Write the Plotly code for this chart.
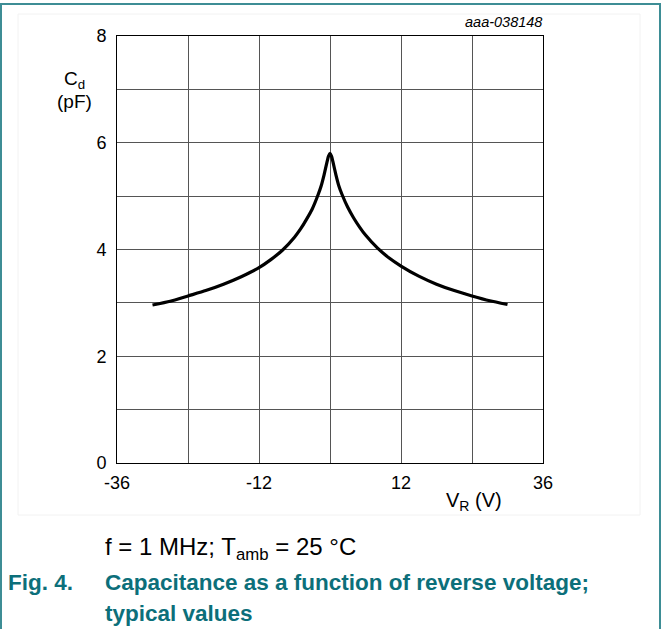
import plotly.graph_objects as go

# ---- data ----
v_r = [-30, -27, -24, -21, -18, -15, -12, -10, -8, -6, -5, -4, -3, -2, -1.5, -1, -0.5, -0.25,
       0, 0.25, 0.5, 1, 1.5, 2, 3, 4, 5, 6, 8, 10, 12, 15, 18, 21, 24, 27, 30]
c_d = [2.96, 3.03, 3.13, 3.23, 3.35, 3.49, 3.66, 3.81, 3.99, 4.23, 4.38, 4.56, 4.76, 5.03, 5.19, 5.40, 5.64, 5.75,
       5.80, 5.75, 5.64, 5.40, 5.19, 5.04, 4.79, 4.59, 4.42, 4.27, 4.03, 3.84, 3.69, 3.50, 3.35, 3.23, 3.13, 3.04, 2.97]

x_ticks = [-36, -24, -12, 0, 12, 24, 36]
x_tick_labels = ["-36", "", "-12", "", "12", "", "36"]
y_ticks = [0, 1, 2, 3, 4, 5, 6, 7, 8]
y_tick_labels = ["0", "", "2", "", "4", "", "6", "", "8"]

W, H = 662, 629
L, R, T, B = 117, 119, 36, 166
PW, PH = W - L - R, H - T - B
FONT = "Arial, Liberation Sans, sans-serif"
TEAL = "#0c6f7a"


def px(x):
    return (x - L) / PW


def py(y):
    return (H - B - y) / PH


fig = go.Figure()
fig.add_trace(go.Scatter(x=v_r, y=c_d, mode="lines",
                         line=dict(color="black", width=3.2, shape="spline", smoothing=0.6),
                         hoverinfo="skip", showlegend=False))

axis_common = dict(showgrid=True, gridcolor="#555555", gridwidth=1, zeroline=False,
                   showline=True, linecolor="black", linewidth=1, mirror=True,
                   ticks="", tickfont=dict(family=FONT, size=18, color="black"))

fig.update_xaxes(range=[-36, 36], tickmode="array", tickvals=x_ticks, ticktext=x_tick_labels,
                 ticklabelstandoff=3, **axis_common)
fig.update_yaxes(range=[0, 8], tickmode="array", tickvals=y_ticks, ticktext=y_tick_labels,
                 ticklabelstandoff=6, **axis_common)

ann = []
ann.append(dict(x=px(544), y=py(22), text="<i>aaa-038148</i>", xanchor="right", yanchor="middle",
                font=dict(family=FONT, size=14.5, color="black")))
ann.append(dict(x=px(74), y=py(80), text="C<sub>d</sub>", xanchor="center", yanchor="middle",
                font=dict(family=FONT, size=19, color="black")))
ann.append(dict(x=px(74), y=py(102), text="(pF)", xanchor="center", yanchor="middle",
                font=dict(family=FONT, size=19, color="black")))
ann.append(dict(x=px(474), y=py(501), text="V<sub>R</sub> (V)", xanchor="center", yanchor="middle",
                font=dict(family=FONT, size=20, color="black")))
ann.append(dict(x=px(103), y=py(548), text="f = 1 MHz; T<sub>amb</sub> = 25 °C", xanchor="left",
                yanchor="middle", font=dict(family=FONT, size=24, color="black")))
ann.append(dict(x=px(6), y=py(582), text="<b>Fig. 4.</b>", xanchor="left", yanchor="middle",
                font=dict(family=FONT, size=22.5, color=TEAL)))
ann.append(dict(x=px(103), y=py(582), text="<b>Capacitance as a function of reverse voltage;</b>",
                xanchor="left", yanchor="middle", font=dict(family=FONT, size=22.5, color=TEAL)))
ann.append(dict(x=px(103), y=py(613), text="<b>typical values</b>", xanchor="left", yanchor="middle",
                font=dict(family=FONT, size=22.5, color=TEAL)))
for a in ann:
    a.update(xref="paper", yref="paper", showarrow=False)

shapes = [
    dict(type="rect", xref="paper", yref="paper", x0=px(18), x1=px(640), y0=py(14), y1=py(515),
         line=dict(color="#f2f2f2", width=1), layer="below"),
    dict(type="rect", xref="paper", yref="paper", x0=px(1), x1=px(660), y0=py(4), y1=py(640),
         line=dict(color="#3d8d95", width=2), layer="above"),
]

fig.update_layout(width=W, height=H, margin=dict(l=L, r=R, t=T, b=B, autoexpand=False),
                  paper_bgcolor="white", plot_bgcolor="white",
                  annotations=ann, shapes=shapes, showlegend=False)

fig.write_html("out.html", config={"displayModeBar": False, "staticPlot": True},
               post_script="document.body.style.margin='0';document.body.style.overflow='hidden';")
